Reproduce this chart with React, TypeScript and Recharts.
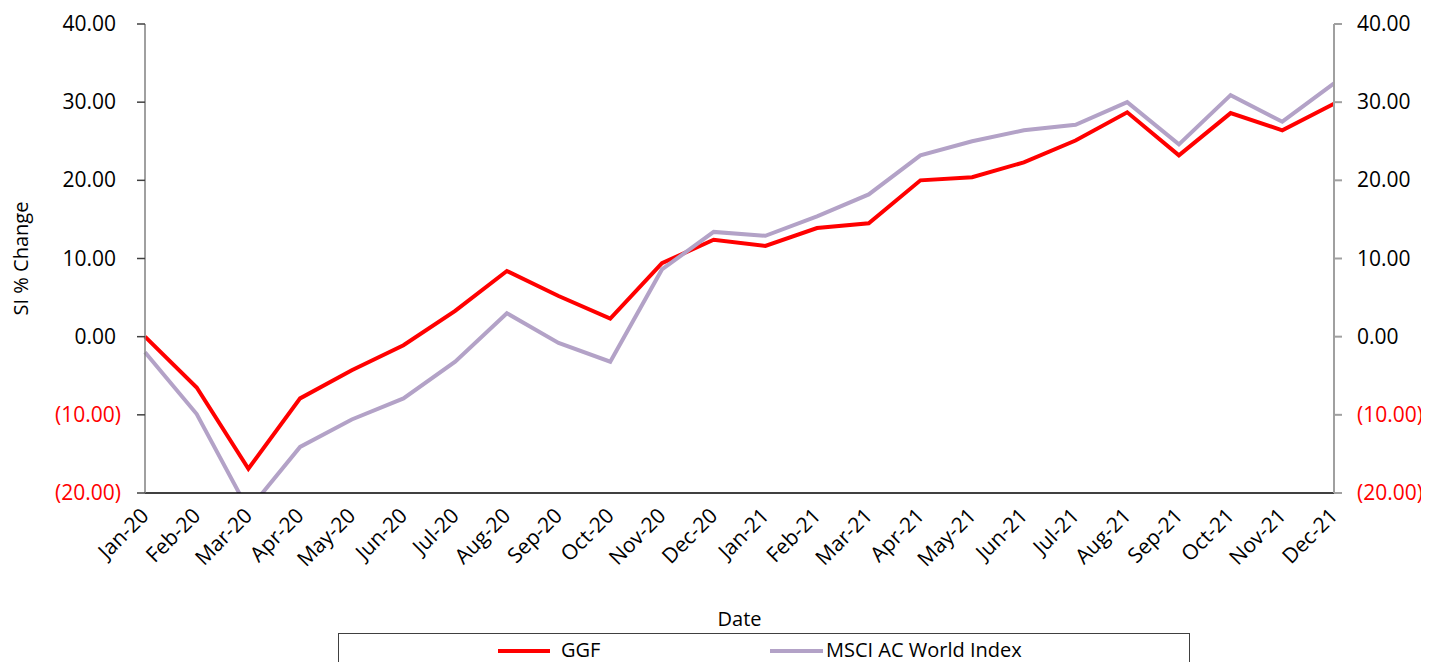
import { LineChart, Line, XAxis, YAxis, Legend, Label } from 'recharts';

const months = [
  'Jan-20', 'Feb-20', 'Mar-20', 'Apr-20', 'May-20', 'Jun-20', 'Jul-20', 'Aug-20',
  'Sep-20', 'Oct-20', 'Nov-20', 'Dec-20', 'Jan-21', 'Feb-21', 'Mar-21', 'Apr-21',
  'May-21', 'Jun-21', 'Jul-21', 'Aug-21', 'Sep-21', 'Oct-21', 'Nov-21', 'Dec-21',
];

const ggf = [
  0.0, -6.5, -16.9, -7.9, -4.3, -1.1, 3.3, 8.4, 5.2, 2.3, 9.4, 12.4,
  11.6, 13.9, 14.5, 20.0, 20.4, 22.3, 25.1, 28.7, 23.2, 28.6, 26.4, 29.8,
];

const msci = [
  -2.0, -9.9, -22.2, -14.1, -10.6, -7.9, -3.2, 3.0, -0.8, -3.2, 8.6, 13.4,
  12.9, 15.4, 18.2, 23.2, 25.0, 26.4, 27.1, 30.0, 24.6, 30.9, 27.5, 32.4,
];

const yTicks = [-20, -10, 0, 10, 20, 30, 40];

const data = months.map((m, i) => ({ month: m, ggf: ggf[i], msci: msci[i] }));

const FONT = '"Open Sans", "Noto Sans", sans-serif';
const RED = '#FF0000';
const LAVENDER = '#B3A2C7';

const fmt = (v: number) => (v < 0 ? `(${Math.abs(v).toFixed(2)})` : v.toFixed(2));

const LeftTick = (props: any) => {
  const { x, y, payload } = props;
  const v = payload.value;
  return (
    <text x={v < 0 ? x + 2 : x - 3} y={y} dy={7} textAnchor="end" fontSize={21} fontFamily={FONT} fill={v < 0 ? RED : '#000'}>
      {fmt(v)}
    </text>
  );
};

const RightTick = (props: any) => {
  const { x, y, payload } = props;
  const v = payload.value;
  return (
    <text x={x - 1} y={y} dy={7} textAnchor="start" fontSize={21} fontFamily={FONT} fill={v < 0 ? RED : '#000'}>
      {fmt(v)}
    </text>
  );
};

const MonthTick = (props: any) => {
  const { x, y, payload } = props;
  return (
    <text
      x={x + 5}
      y={y + 16}
      transform={`rotate(-45, ${x + 5}, ${y + 16})`}
      textAnchor="end"
      fontSize={21}
      fontFamily={FONT}
      fill="#000"
    >
      {payload.value}
    </text>
  );
};

const YTitle = (props: any) => {
  const { viewBox } = props;
  const cx = 12;
  const cy = viewBox.y + viewBox.height / 2;
  return (
    <text x={cx} y={cy} transform={`rotate(-90, ${cx}, ${cy})`} textAnchor="middle" dominantBaseline="central" fontSize={20} fontFamily={FONT} fill="#000">
      SI % Change
    </text>
  );
};

const LegendBox = () => (
  <div
    style={{
      position: 'relative',
      width: 852,
      height: 40,
      border: '1px solid #404040',
      boxSizing: 'border-box',
      fontFamily: FONT,
      fontSize: 20,
      background: '#fff',
    }}
  >
    <span style={{ position: 'absolute', left: 159, top: 15, width: 52, height: 4, background: RED }} />
    <span style={{ position: 'absolute', left: 222, top: 1, lineHeight: '30px' }}>GGF</span>
    <span style={{ position: 'absolute', left: 431, top: 15, width: 53, height: 4, background: LAVENDER }} />
    <span style={{ position: 'absolute', left: 487, top: 1, lineHeight: '30px' }}>MSCI AC World Index</span>
  </div>
);

export default function App() {
  return (
    <>
      <style>{'.recharts-surface { overflow: visible; }'}</style>
      <LineChart
        width={1413}
        height={654}
        data={data}
        margin={{ top: 16, right: 7, left: 0, bottom: 0 }}
      >
        <XAxis
          dataKey="month"
          interval={0}
          tickLine={false}
          axisLine={{ stroke: '#000', strokeWidth: 1.5 }}
          height={129}
          tick={<MonthTick />}
          padding={{ left: 0, right: 0 }}
        >
          <Label value="Date" position="insideBottom" offset={-4} fontSize={20} fontFamily={FONT} fill="#000" />
        </XAxis>
        <YAxis
          yAxisId="left"
          domain={[-20, 40]}
          ticks={yTicks}
          allowDataOverflow
          width={137}
          tickSize={8}
          axisLine={{ stroke: '#808080', strokeWidth: 1.5 }}
          tickLine={{ stroke: '#404040', strokeWidth: 1.5 }}
          tick={<LeftTick />}
          tickMargin={18}
        >
          <Label content={<YTitle />} />
        </YAxis>
        <YAxis
          yAxisId="right"
          orientation="right"
          domain={[-20, 40]}
          ticks={yTicks}
          allowDataOverflow
          width={80}
          tickSize={8}
          axisLine={{ stroke: '#A0A0A0', strokeWidth: 2 }}
          tickLine={{ stroke: '#A0A0A0', strokeWidth: 2 }}
          tick={<RightTick />}
          tickMargin={16}
        />
        <Legend
          content={<LegendBox />}
          wrapperStyle={{ position: 'absolute', left: 330, top: 625, width: 852, height: 40 }}
        />
        <Line
          yAxisId="left"
          type="linear"
          dataKey="ggf"
          name="GGF"
          stroke={RED}
          strokeWidth={4}
          dot={false}
          isAnimationActive={false}
        />
        <Line
          yAxisId="left"
          type="linear"
          dataKey="msci"
          name="MSCI AC World Index"
          stroke={LAVENDER}
          strokeWidth={4}
          dot={false}
          isAnimationActive={false}
        />
      </LineChart>
    </>
  );
}
